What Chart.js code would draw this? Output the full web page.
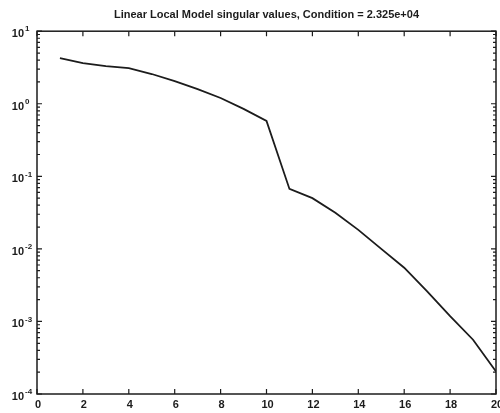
<!DOCTYPE html>
<html>
<head>
<meta charset="utf-8">
<script src="https://cdn.jsdelivr.net/npm/chart.js@4"></script>
<style>
html, body { margin: 0; padding: 0; background: #fff; }
#contenedor { width: 500px; height: 413px; }
</style>
</head>
<body>
<div id="contenedor"><canvas id="grafico"></canvas></div>
<script>
// datos
const indices = [1, 2, 3, 4, 5, 6, 7, 8, 9, 10, 11, 12, 13, 14, 15, 16, 17, 18, 19, 20];
const valoresSingulares = [4.26, 3.63, 3.3, 3.09, 2.57, 2.05, 1.59, 1.2, 0.85, 0.58,
    0.067, 0.050, 0.0314, 0.0183, 0.0100, 0.0055, 0.0026, 0.00118, 0.00056, 0.000204];
const ticksX = [0, 2, 4, 6, 8, 10, 12, 14, 16, 18, 20];
const exponentesY = [1, 0, -1, -2, -3, -4];
const titulo = 'Linear Local Model singular values, Condition = 2.325e+04';

const colorTinta = '#1c1c1c';

// marco con marcas hacia dentro y etiquetas tipo 10^n
const marcoEjes = {
    id: 'marcoEjes',
    afterDraw(chart) {
        const { ctx, chartArea: area, scales } = chart;
        const ejeX = scales.x, ejeY = scales.y;
        ctx.save();
        ctx.strokeStyle = colorTinta;
        ctx.fillStyle = colorTinta;
        ctx.lineWidth = 1.5;
        ctx.strokeRect(area.left, area.top, area.right - area.left, area.bottom - area.top);

        ctx.lineWidth = 1.2;
        ctx.beginPath();
        ticksX.forEach(v => {
            const px = ejeX.getPixelForValue(v);
            ctx.moveTo(px, area.bottom); ctx.lineTo(px, area.bottom - 5);
            ctx.moveTo(px, area.top); ctx.lineTo(px, area.top + 5);
        });
        exponentesY.forEach(e => {
            const py = ejeY.getPixelForValue(Math.pow(10, e));
            ctx.moveTo(area.left, py); ctx.lineTo(area.left + 5, py);
            ctx.moveTo(area.right, py); ctx.lineTo(area.right - 5, py);
            if (e < 1) {
                for (let k = 2; k <= 9; k++) {
                    const pm = ejeY.getPixelForValue(k * Math.pow(10, e));
                    ctx.moveTo(area.left, pm); ctx.lineTo(area.left + 3, pm);
                    ctx.moveTo(area.right, pm); ctx.lineTo(area.right - 3, pm);
                }
            }
        });
        ctx.stroke();

        // etiquetas eje x
        ctx.font = 'bold 11px "Liberation Sans", Arial, sans-serif';
        ctx.textAlign = 'center';
        ctx.textBaseline = 'middle';
        ticksX.forEach(v => {
            ctx.fillText(String(v), ejeX.getPixelForValue(v) + 1, area.bottom + 11);
        });

        // etiquetas eje y
        exponentesY.forEach(e => {
            const py = ejeY.getPixelForValue(Math.pow(10, e));
            ctx.font = 'bold 11px "Liberation Sans", Arial, sans-serif';
            ctx.textAlign = 'right';
            ctx.textBaseline = 'middle';
            ctx.fillText('10', 24, py + 3);
            ctx.font = 'bold 8px "Liberation Sans", Arial, sans-serif';
            ctx.textAlign = 'left';
            ctx.fillText(String(e), 25, py - 2);
        });
        ctx.restore();
    }
};

new Chart(document.getElementById('grafico'), {
    type: 'line',
    data: {
        datasets: [{
            data: indices.map((x, i) => ({ x: x, y: valoresSingulares[i] })),
            borderColor: colorTinta,
            borderWidth: 1.8,
            pointRadius: 0,
            tension: 0,
            fill: false
        }]
    },
    options: {
        responsive: true,
        maintainAspectRatio: false,
        animation: false,
        layout: { padding: { left: 37, right: 4, bottom: 19, top: 0 } },
        scales: {
            x: { type: 'linear', min: 0, max: 20, display: false },
            y: { type: 'logarithmic', min: 1e-4, max: 10, display: false }
        },
        plugins: {
            legend: { display: false },
            tooltip: { enabled: false },
            title: {
                display: true,
                text: titulo,
                fullSize: false,
                color: colorTinta,
                font: { family: '"Liberation Sans", Arial, sans-serif', size: 11, weight: 'bold' },
                padding: { top: 8, bottom: 10 }
            }
        }
    },
    plugins: [marcoEjes]
});
</script>
</body>
</html>
